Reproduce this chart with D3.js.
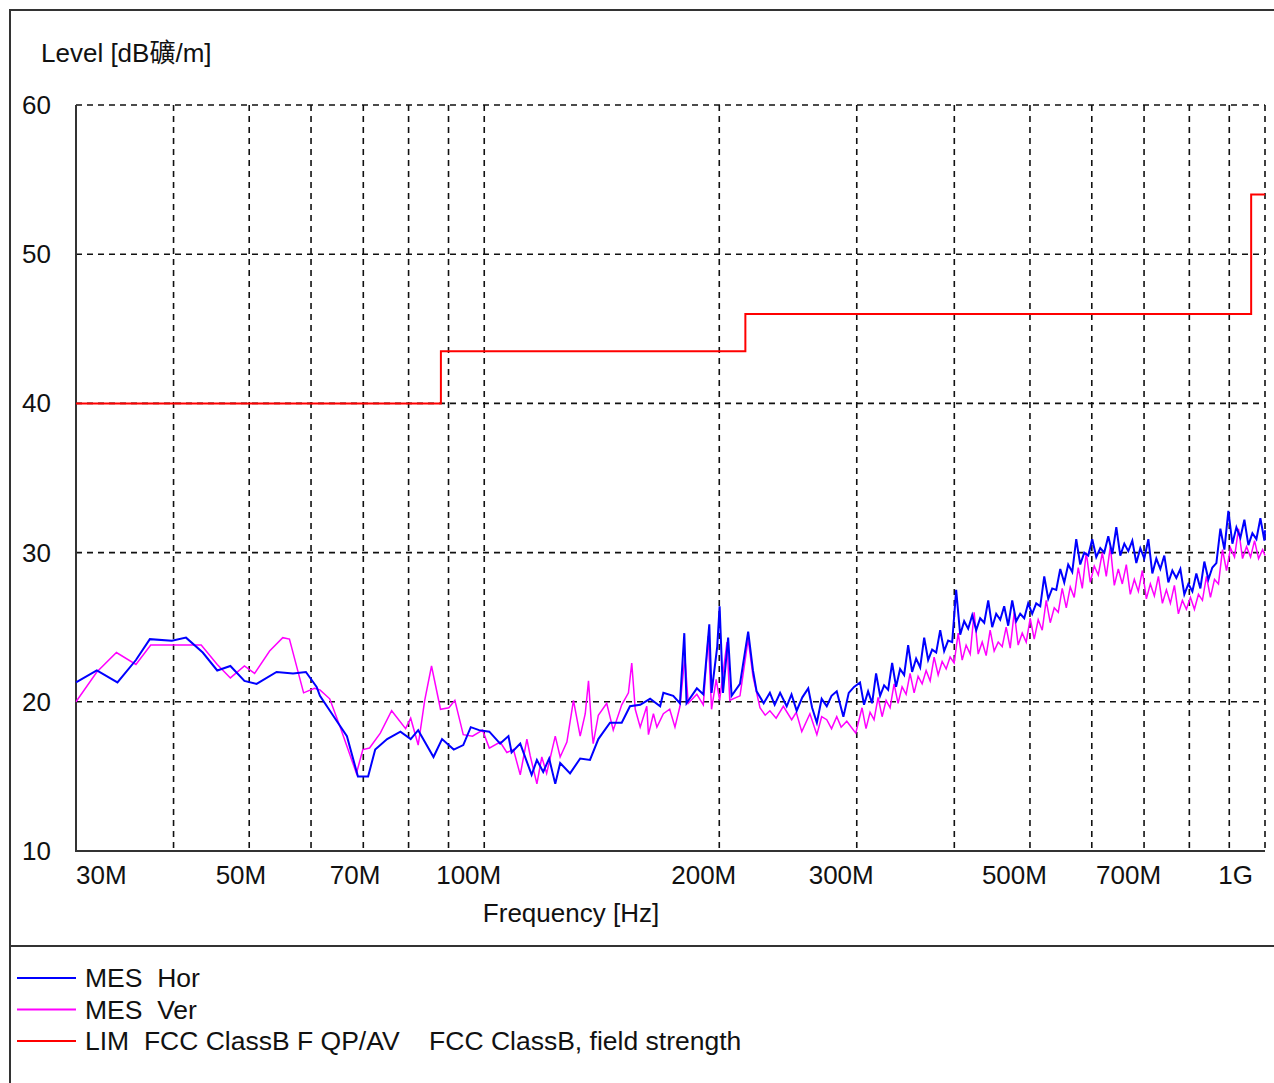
<!DOCTYPE html>
<html>
<head>
<meta charset="utf-8">
<script src="https://cdn.jsdelivr.net/npm/d3@7"></script>
<style>
  body { margin: 0; background: #fff; }
  text { font-family: "Liberation Sans", Arial, "Noto Sans CJK SC", sans-serif; fill: #111; white-space: pre; }
</style>
</head>
<body>
<div id="chart"></div>
<script>
// Data
const yTicks = [10, 20, 30, 40, 50, 60];
const gridFreqs = [40, 50, 60, 70, 80, 90, 100, 200, 300, 400, 500, 600, 700, 800, 900, 1000];
const xTickValues = [30, 50, 70, 100, 200, 300, 500, 700, 1000];
const xTickLabels = ["30M", "50M", "70M", "100M", "200M", "300M", "500M", "700M", "1G"];

const limFreq = [30, 88, 216, 960, 1000];
const limLevel = [40, 43.5, 46, 54, 54];

// [MHz, dB]
const horData = [
  [30, 21.3], [31.9, 22.1], [33.9, 21.3], [35.8, 22.8], [37.3, 24.2], [39.8, 24.1], [41.5, 24.3],
  [43.6, 23.3], [45.5, 22.1], [47.3, 22.4], [49.3, 21.4], [51.1, 21.2], [54.2, 22.0], [56.9, 21.9],
  [59.1, 22.0], [61.0, 21.0], [61.6, 20.4], [64.0, 19.1], [66.7, 17.7], [68.9, 15.0], [71.0, 15.0],
  [72.5, 16.8], [75.1, 17.5], [78.1, 18.0], [80.5, 17.5], [82.3, 18.1], [86.1, 16.3], [88.3, 17.5],
  [91.4, 16.8], [94.0, 17.1], [96.1, 18.3], [98.5, 18.1], [101.5, 18.0], [104.8, 17.2], [107.4, 17.7],
  [108.4, 16.6], [111.2, 17.2], [115.0, 15.1], [116.8, 16.1], [119.0, 15.3], [121.1, 16.2], [123.3, 14.5],
  [125.1, 15.9], [128.8, 15.2], [132.7, 16.2], [136.6, 16.1], [140.0, 17.5], [144.9, 18.6], [150.0, 18.6],
  [153.7, 19.7], [158.4, 19.8], [163.1, 20.2], [168.0, 19.7], [169.6, 20.6], [174.6, 20.4], [178.1, 19.9],
  [180.4, 24.6], [181.6, 19.9], [187.2, 20.9], [190.8, 20.5], [194.2, 25.2], [195.5, 20.6], [198.8, 23.7],
  [200.2, 26.4], [202.2, 20.6], [205.3, 24.3], [207.4, 20.4], [212.6, 21.2], [217.8, 24.7], [220.9, 22.1],
  [223.3, 20.7], [228.0, 19.9], [232.2, 20.6], [235.5, 19.8], [239.3, 20.6], [244.0, 19.7], [247.5, 20.5],
  [251.3, 19.4], [255.5, 20.3], [260.0, 20.9], [263.0, 19.6], [266.7, 18.6], [270.5, 20.2], [274.6, 19.7],
  [278.5, 20.4], [282.8, 20.7], [288.4, 19.0], [293.0, 20.6], [297.6, 21.0],
  [302.9, 21.3], [306.5, 19.8], [310.2, 20.7], [313.9, 19.9], [317.6, 21.9], [321.4, 20.4], [325.2, 21.1],
  [329.1, 20.8], [333.0, 22.6], [336.9, 21.0], [340.9, 22.2], [345.0, 21.8], [349.1, 23.8], [353.2, 22.0],
  [357.4, 22.9], [361.7, 22.3], [366.0, 24.3], [370.3, 22.8], [374.7, 23.5], [379.2, 23.3], [383.7, 24.8],
  [388.2, 23.4], [392.8, 24.1], [397.5, 24.0], [402.2, 27.5], [407.0, 24.5], [411.8, 25.4], [416.7, 24.9],
  [421.7, 25.8], [426.7, 24.8], [431.7, 25.6], [436.9, 25.3], [442.1, 26.8], [447.3, 25.0], [452.6, 25.9],
  [458.0, 25.5], [463.4, 26.4], [468.9, 25.1], [474.5, 26.8], [480.1, 25.4], [485.8, 25.9], [491.6, 25.6],
  [497.4, 26.6], [503.3, 25.9], [509.3, 26.6], [515.4, 26.4], [521.5, 28.4], [527.7, 26.9], [533.9, 27.6],
  [540.3, 27.5], [546.7, 28.9], [553.2, 28.0], [559.7, 29.2], [566.4, 28.7], [573.1, 30.9], [579.9, 29.2],
  [586.8, 30.0], [593.8, 29.8], [600.8, 30.9], [608.0, 29.7], [615.2, 30.3], [622.5, 30.0], [629.9, 31.1],
  [637.4, 29.9], [645.0, 31.7], [652.6, 29.8], [660.4, 30.6], [668.2, 30.1], [676.2, 30.8], [684.2, 29.3],
  [692.3, 30.3], [700.5, 29.6], [708.9, 30.9], [717.3, 28.6], [725.8, 29.6], [734.4, 28.9], [743.1, 29.8],
  [752.0, 28.0], [760.9, 28.8], [769.9, 28.3], [779.1, 28.9], [788.3, 27.2], [797.7, 27.9], [807.2, 27.4],
  [816.7, 28.6], [826.4, 27.6], [836.2, 29.4], [846.2, 28.2], [856.2, 29.0], [866.4, 29.3], [876.7, 31.6],
  [887.1, 30.2], [897.6, 32.8], [908.3, 30.6], [919.1, 31.7], [930.0, 31.0], [941.0, 32.2], [952.2, 30.5],
  [963.5, 31.3], [975.0, 30.9], [986.5, 32.3], [998.2, 30.8], [1000, 31.5]
];

const verData = [
  [30, 20.0], [31.9, 22.0], [33.8, 23.3], [35.8, 22.5], [37.4, 23.8], [40.9, 23.8], [43.4, 23.8],
  [45.5, 22.5], [47.3, 21.6], [49.3, 22.4], [50.8, 21.9], [53.1, 23.4], [55.2, 24.3], [56.3, 24.2],
  [58.7, 20.6], [60.6, 20.9], [61.6, 20.8], [63.4, 20.2], [65.4, 18.3], [68.6, 15.2], [69.9, 16.8],
  [71.3, 16.9], [73.6, 17.9], [76.1, 19.4], [79.3, 18.2], [80.5, 18.9], [82.3, 17.1], [83.9, 20.1],
  [85.6, 22.4], [87.9, 19.5], [90.1, 19.6], [91.7, 20.1], [94.0, 17.8], [96.6, 17.7], [99.5, 18.1],
  [101.5, 16.9], [104.8, 17.3], [106.9, 16.6], [109.0, 16.8], [111.2, 15.1], [113.4, 17.5], [114.5, 16.4],
  [116.8, 14.5], [118.5, 16.3], [120.2, 15.2], [123.3, 17.7], [125.1, 16.3], [127.6, 17.3], [130.1, 20.1],
  [132.7, 17.7], [134.7, 19.2], [136.0, 21.4], [137.3, 18.2], [137.9, 17.2], [140.0, 19.1], [143.5, 19.9],
  [146.3, 18.1], [150.0, 19.8], [153.0, 20.6], [154.5, 22.6], [156.1, 19.5], [158.4, 18.3], [161.5, 19.7],
  [162.3, 17.8], [164.7, 19.2], [166.4, 18.3], [169.6, 19.2], [172.8, 19.5], [175.5, 18.3], [178.1, 19.7],
  [180.7, 23.0], [182.5, 19.9], [187.2, 20.5], [190.8, 19.8], [193.6, 24.4], [195.5, 19.5], [198.2, 21.5],
  [200.2, 20.1], [204.6, 24.0], [206.3, 20.1], [212.6, 20.4], [217.8, 24.2], [220.9, 21.7], [225.5, 19.6],
  [229.0, 19.1], [232.2, 19.4], [236.5, 18.9], [241.6, 19.7], [247.6, 18.8], [251.0, 19.3], [255.1, 18.0],
  [261.3, 19.2], [266.7, 17.8], [270.5, 19.0], [274.6, 18.8], [278.5, 18.2], [282.8, 19.0], [286.5, 18.3],
  [291.3, 18.7], [299.1, 17.9],
  [304.7, 19.6], [308.3, 18.2], [312.0, 19.3], [315.7, 18.8], [319.5, 20.3], [323.3, 19.0], [327.1, 20.1],
  [331.0, 19.6], [334.9, 21.2], [338.9, 19.9], [342.9, 21.0], [347.0, 20.5], [351.1, 21.9], [355.3, 20.6],
  [359.5, 21.7], [363.8, 21.2], [368.1, 22.1], [372.5, 21.4], [376.9, 23.0], [381.4, 21.8], [385.9, 22.7],
  [390.5, 22.2], [395.1, 23.0], [399.8, 22.6], [404.6, 24.6], [409.4, 22.8], [414.2, 23.8], [419.2, 23.2],
  [424.1, 26.0], [429.2, 23.2], [434.3, 24.0], [439.4, 23.1], [444.6, 24.8], [449.9, 23.4], [455.3, 24.0],
  [460.7, 23.7], [466.1, 25.0], [471.7, 23.6], [477.3, 26.0], [482.9, 23.8], [488.7, 24.6], [494.5, 24.0],
  [500.3, 25.6], [506.3, 24.2], [512.3, 25.5], [518.4, 24.8], [524.5, 26.8], [530.8, 25.3], [537.1, 26.3],
  [543.5, 26.0], [549.9, 27.6], [556.5, 26.3], [563.1, 27.7], [569.7, 27.0], [576.5, 29.0], [583.4, 27.6],
  [590.3, 30.0], [597.3, 28.0], [604.4, 29.1], [611.6, 28.5], [618.9, 30.0], [626.2, 28.4], [633.7, 30.4],
  [641.2, 27.8], [648.8, 28.9], [656.5, 27.9], [664.3, 29.2], [672.2, 27.2], [680.2, 28.2], [688.3, 27.4],
  [696.5, 28.8], [704.8, 26.9], [713.1, 27.9], [721.6, 27.1], [730.2, 28.4], [738.9, 26.6], [747.7, 27.5],
  [756.5, 26.6], [765.5, 27.8], [774.6, 25.9], [783.8, 26.8], [793.1, 26.2], [802.6, 27.0], [812.1, 26.2],
  [821.8, 27.2], [831.5, 26.8], [841.4, 28.4], [851.4, 27.0], [861.6, 28.2], [871.8, 27.9], [882.2, 30.2],
  [892.7, 28.8], [903.3, 30.3], [914.0, 29.7], [924.9, 31.6], [935.9, 29.6], [947.0, 30.4], [958.3, 29.7],
  [969.7, 30.8], [981.2, 29.6], [992.9, 30.2], [1000, 29.8]
];

const legendNames = ["MES  Hor", "MES  Ver", "LIM  FCC ClassB F QP/AV    FCC ClassB, field strength"];
const legendColors = ["#0000ff", "#ff00ff", "#ff0000"];

// Layout
const W = 1274, H = 1083;
const plotLeft = 76, plotRight = 1265, plotTop = 105, plotBottom = 851;

const svg = d3.select("#chart")
  .append("svg")
  .attr("width", W)
  .attr("height", H);

svg.append("rect").attr("width", W).attr("height", H).attr("fill", "#fff");

const x = d3.scaleLog().domain([30, 1000]).range([plotLeft, plotRight]);
const y = d3.scaleLinear().domain([10, 60]).range([plotBottom, plotTop]);

// Frame
svg.append("path")
  .attr("d", `M10,${H} V10 H${W}`)
  .attr("fill", "none")
  .attr("stroke", "#333")
  .attr("stroke-width", 2);
svg.append("line")
  .attr("x1", 10).attr("x2", W)
  .attr("y1", 946).attr("y2", 946)
  .attr("stroke", "#333")
  .attr("stroke-width", 2);

// Grid
svg.append("g")
  .selectAll("line")
  .data(yTicks.filter(d => d > 10))
  .join("line")
  .attr("x1", plotLeft).attr("x2", plotRight)
  .attr("y1", d => y(d)).attr("y2", d => y(d))
  .attr("stroke", "#111")
  .attr("stroke-width", 1.6)
  .attr("stroke-dasharray", "6,5");

svg.append("g")
  .selectAll("line")
  .data(gridFreqs)
  .join("line")
  .attr("x1", d => x(d)).attr("x2", d => x(d))
  .attr("y1", plotTop).attr("y2", plotBottom)
  .attr("stroke", "#111")
  .attr("stroke-width", 1.6)
  .attr("stroke-dasharray", "6,5");

// Axes lines
svg.append("path")
  .attr("d", `M${plotLeft},${plotTop} V${plotBottom} H${plotRight}`)
  .attr("fill", "none")
  .attr("stroke", "#333")
  .attr("stroke-width", 2);

// Y tick labels
svg.append("g")
  .selectAll("text")
  .data(yTicks)
  .join("text")
  .attr("x", 51)
  .attr("y", d => y(d) + 9)
  .attr("text-anchor", "end")
  .attr("font-size", "26px")
  .text(d => d);

// X tick labels
svg.append("g")
  .selectAll("text")
  .data(xTickValues)
  .join("text")
  .attr("x", (d, i) => i === 0 ? plotLeft : (i === xTickValues.length - 1 ? x(d) - 12 : x(d) + 17))
  .attr("y", 884)
  .attr("text-anchor", (d, i) => i === 0 ? "start" : "end")
  .attr("font-size", "26px")
  .text((d, i) => xTickLabels[i]);

// Titles
svg.append("text")
  .attr("x", 41).attr("y", 62)
  .attr("font-size", "26px")
  .text("Level [dB礦/m]");

svg.append("text")
  .attr("x", 571).attr("y", 922)
  .attr("text-anchor", "middle")
  .attr("font-size", "26px")
  .text("Frequency [Hz]");

// Traces
const line = d3.line()
  .x(d => x(d[0]))
  .y(d => y(d[1]));

svg.append("path")
  .datum(verData)
  .attr("d", line)
  .attr("fill", "none")
  .attr("stroke", legendColors[1])
  .attr("stroke-width", 1.5);

svg.append("path")
  .datum(horData)
  .attr("d", line)
  .attr("fill", "none")
  .attr("stroke", legendColors[0])
  .attr("stroke-width", 2);

const limData = limFreq.map((f, i) => [f, limLevel[i]]);
svg.append("path")
  .datum(limData)
  .attr("d", d3.line().x(d => x(d[0])).y(d => y(d[1])).curve(d3.curveStepAfter))
  .attr("fill", "none")
  .attr("stroke", legendColors[2])
  .attr("stroke-width", 2);

// Legend
const legend = svg.append("g")
  .selectAll("g")
  .data(legendNames)
  .join("g")
  .attr("transform", (d, i) => `translate(0, ${978 + i * 31.5})`);

legend.append("line")
  .attr("x1", 17).attr("x2", 76)
  .attr("stroke", (d, i) => legendColors[i])
  .attr("stroke-width", 2);

legend.append("text")
  .attr("x", 85).attr("y", 9)
  .attr("font-size", "26.5px")
  .text(d => d);
</script>
</body>
</html>
